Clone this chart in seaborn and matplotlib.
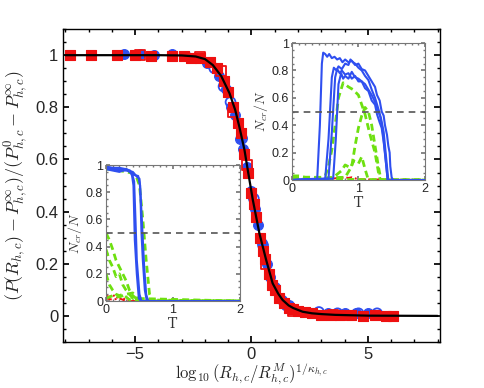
import numpy as np
import pandas as pd
import matplotlib
matplotlib.use("Agg")
import matplotlib.pyplot as plt
import seaborn as sns
from matplotlib.ticker import MultipleLocator

sns.set_theme(style="ticks")
plt.rcParams['font.family'] = ['Liberation Sans', 'DejaVu Sans']
plt.rcParams['mathtext.fontset'] = 'cm'

BLUE = '#2f4ff0'
RED = '#ee1010'
GREEN = '#6ee010'

# main collapse: fitted curve
curve_x = [-8, -4, -3, -2.4, -2.0, -1.66, -1.3, -0.94, -0.7, -0.52, -0.3, -0.16, 0.06,
           0.34, 0.63, 0.91, 1.15, 1.34, 1.6, 1.8, 2.2, 2.6, 3.0, 3.6, 5, 8]
curve_y = [1, 1, 0.999, 0.995, 0.985, 0.962, 0.92, 0.853, 0.79, 0.725, 0.636, 0.56, 0.444,
           0.317, 0.215, 0.125, 0.085, 0.061, 0.04, 0.03, 0.016, 0.01, 0.007, 0.004, 0.001, 0]

# red filled squares
red_x = [-7.8, -6.9, -5.8, -5.0, -4.3, -3.4, -2.9, -2.6, -2.2, -1.8, -1.5, -1.2, -1.0, -0.8,
         -0.6, -0.45, -0.3, -0.15, 0.0, 0.1, 0.2, 0.35, 0.5, 0.6, 0.75, 0.9, 1.0, 1.2, 1.4,
         1.6, 1.8, 2.0, 2.3, 2.6, 3.0, 3.4, 3.8, 4.3, 4.8, 5.3, 5.8, 6.1]
red_y = [1.0, 1.0, 1.0, 1.0, 0.995, 0.995, 0.997, 0.99, 0.99, 0.975, 0.95, 0.9, 0.86, 0.8,
         0.74, 0.7, 0.62, 0.55, 0.47, 0.43, 0.38, 0.3, 0.25, 0.22, 0.16, 0.12, 0.1, 0.07, 0.05,
         0.03, 0.025, 0.02, 0.015, 0.01, 0.005, 0.005, 0.003, 0.003, 0.0, 0.002, 0.0, 0.0]
# red open squares
redo_x = [-4.8, -2.2, -1.3, -0.8, -0.2, 0.6, 1.8, 3.5]
redo_y = [1.0, 0.995, 0.94, 0.78, 0.58, 0.2, 0.02, 0.005]

# blue filled circles
blue_x = [-5.5, -4.8, -4.2, -3.4, -2.8, -2.4, -1.9, -1.4, -1.1, -0.9, -0.7, -0.5, -0.35,
          -0.2, 0.0, 0.15, 0.3, 0.45, 0.65, 0.8, 1.0, 1.3, 1.6, 2.0, 2.5, 3.3, 4.0, 4.5, 5.0]
blue_y = [1.005, 1.005, 1.0, 1.005, 0.995, 0.99, 0.97, 0.92, 0.87, 0.8, 0.77, 0.68, 0.64,
          0.57, 0.48, 0.41, 0.35, 0.28, 0.2, 0.15, 0.11, 0.06, 0.04, 0.02, 0.01, 0.01, 0.01,
          0.01, 0.01]
# blue open circles
blueo_x = [-1.6, -1.2, -0.9, -0.4, 0.1, 0.5, 1.5, 2.9, 3.7, 4.6, 5.4]
blueo_y = [0.95, 0.88, 0.82, 0.68, 0.45, 0.27, 0.04, 0.015, 0.01, 0.01, 0.01]

# left inset (N_cr/N vs T)
L_blue = [
    ([0, 0.1, 0.2, 0.3, 0.36, 0.39, 0.41, 0.43, 0.46, 0.49, 0.52, 2],
     [0.98, 0.97, 0.97, 0.97, 0.96, 0.92, 0.85, 0.45, 0.2, 0.02, 0, 0]),
    ([0, 0.1, 0.2, 0.3, 0.38, 0.42, 0.44, 0.46, 0.5, 0.53, 2],
     [0.99, 0.98, 0.98, 0.97, 0.95, 0.88, 0.6, 0.3, 0.05, 0, 0]),
    ([0, 0.1, 0.2, 0.3, 0.4, 0.48, 0.51, 0.53, 0.55, 0.58, 0.61, 2],
     [0.97, 0.96, 0.95, 0.97, 0.93, 0.92, 0.85, 0.5, 0.3, 0.08, 0, 0]),
    ([0, 0.15, 0.3, 0.4, 0.47, 0.5, 0.52, 0.55, 0.57, 0.6, 0.63, 2],
     [0.98, 0.96, 0.96, 0.95, 0.91, 0.9, 0.75, 0.45, 0.25, 0.05, 0, 0]),
]
L_green = [
    ([0, 0.1, 0.2, 0.3, 0.4, 0.45, 0.5, 0.55, 0.6, 0.65, 0.7, 2],
     [0.97, 0.97, 0.96, 0.95, 0.94, 0.92, 0.85, 0.6, 0.3, 0.05, 0, 0]),
    ([0, 0.05, 0.1, 0.15, 0.2, 0.25, 0.3, 0.35, 0.4, 0.45, 0.5, 2],
     [0.5, 0.45, 0.38, 0.3, 0.25, 0.2, 0.15, 0.08, 0.04, 0.02, 0, 0]),
    ([0, 0.05, 0.1, 0.15, 0.2, 0.25, 0.3, 0.35, 0.4, 2],
     [0.38, 0.3, 0.25, 0.18, 0.2, 0.12, 0.08, 0.05, 0.02, 0]),
    ([0, 0.05, 0.1, 0.15, 0.2, 0.25, 0.3, 0.35, 2],
     [0.2, 0.12, 0.08, 0.05, 0.04, 0.05, 0.03, 0.01, 0]),
    ([0, 0.1, 0.2, 0.3, 0.4, 0.45, 0.5, 2],
     [0.02, 0.04, 0.03, 0.05, 0.06, 0.03, 0, 0]),
]
L_red = [
    ([0, 0.05, 0.1, 0.15, 0.2, 0.25, 0.3, 0.35, 2],
     [0.04, 0.03, 0.05, 0.02, 0.04, 0.02, 0.01, 0, 0]),
    ([0, 0.1, 0.2, 0.3, 2],
     [0.02, 0.01, 0.02, 0.0, 0]),
]

# right inset
R_blue = [
    ([0, 0.38, 0.42, 0.45, 0.47, 0.5, 0.53, 0.56, 0.6, 0.64, 0.68, 0.72, 0.76, 0.8, 0.85,
      0.9, 0.95, 1.0, 1.05, 1.1, 1.15, 1.2, 1.25, 1.28, 1.32, 1.35, 1.38, 1.4, 1.43, 1.45,
      1.47, 1.48, 1.5, 1.52, 2.0],
     [0, 0.01, 0.4, 0.85, 0.93, 0.92, 0.90, 0.92, 0.89, 0.90, 0.88, 0.89, 0.86, 0.88, 0.86,
      0.87, 0.84, 0.85, 0.81, 0.80, 0.76, 0.72, 0.68, 0.62, 0.58, 0.50, 0.47, 0.40, 0.33,
      0.25, 0.2, 0.1, 0.02, 0, 0]),
    ([0, 0.5, 0.55, 0.6, 0.63, 0.67, 0.7, 0.75, 0.8, 0.85, 0.88, 0.92, 0.95, 1.0, 1.05,
      1.1, 1.15, 1.2, 1.25, 1.3, 1.34, 1.38, 1.42, 1.45, 2],
     [0, 0.01, 0.3, 0.75, 0.82, 0.80, 0.83, 0.81, 0.85, 0.84, 0.88, 0.86, 0.85, 0.82, 0.80,
      0.76, 0.73, 0.66, 0.60, 0.52, 0.45, 0.35, 0.15, 0, 0]),
    ([0, 0.55, 0.6, 0.65, 0.68, 0.72, 0.75, 0.8, 0.85, 0.9, 0.95, 1.0, 1.05, 1.1, 1.15,
      1.2, 1.25, 1.28, 1.32, 1.35, 1.38, 1.42, 1.44, 2],
     [0, 0.01, 0.35, 0.75, 0.81, 0.78, 0.80, 0.77, 0.78, 0.74, 0.76, 0.72, 0.72, 0.67, 0.65,
      0.58, 0.55, 0.48, 0.42, 0.38, 0.28, 0.1, 0, 0]),
    ([0, 0.62, 0.66, 0.7, 0.74, 0.77, 0.8, 0.85, 0.9, 0.95, 1.0, 1.05, 1.1, 1.15, 1.2,
      1.25, 1.3, 1.33, 1.36, 1.4, 1.44, 2],
     [0, 0.01, 0.3, 0.7, 0.78, 0.74, 0.76, 0.74, 0.79, 0.75, 0.74, 0.72, 0.70, 0.66, 0.62,
      0.57, 0.50, 0.46, 0.38, 0.2, 0.0, 0]),
]
R_green = [
    ([0, 0.45, 0.5, 0.55, 0.6, 0.65, 0.7, 0.77, 0.85, 0.92, 1.0, 1.05, 1.1, 1.17, 1.25, 1.3,
      1.33, 2],
     [0.02, 0.02, 0.03, 0.1, 0.22, 0.4, 0.6, 0.71, 0.68, 0.66, 0.62, 0.55, 0.48, 0.34, 0.2,
      0.06, 0, 0]),
    ([0, 0.8, 0.9, 0.95, 1.0, 1.05, 1.1, 1.15, 1.2, 1.25, 1.3, 1.34, 2],
     [0.01, 0.02, 0.1, 0.25, 0.38, 0.47, 0.53, 0.50, 0.4, 0.25, 0.1, 0, 0]),
    ([0, 0.55, 0.65, 0.75, 0.8, 0.88, 0.93, 1.0, 1.05, 1.1, 1.15, 2],
     [0.02, 0.01, 0.03, 0.07, 0.11, 0.09, 0.14, 0.12, 0.17, 0.08, 0, 0]),
    ([0, 0.1, 0.2, 0.3, 0.4, 0.5, 0.6, 2],
     [0.03, 0.03, 0.02, 0.02, 0.01, 0.01, 0.005, 0]),
]
R_red = [
    ([0, 0.3, 0.6, 0.8, 0.85, 0.9, 1.0, 2],
     [0.0, 0.005, 0.01, 0.02, 0.015, 0.02, 0.005, 0]),
]

fig = plt.figure(figsize=(4.85, 3.88), dpi=100)
ax = fig.add_axes([0.13, 0.1186, 0.777, 0.8064])

sns.lineplot(x=curve_x, y=curve_y, ax=ax, color='black', lw=1.6, sort=False,
             estimator=None, zorder=5)
sns.scatterplot(x=blue_x, y=blue_y, ax=ax, color=BLUE, marker='o', s=50,
                edgecolor=BLUE, linewidth=0.8, zorder=3)
sns.scatterplot(x=blueo_x, y=blueo_y, ax=ax, marker='o', s=50, facecolor='none',
                edgecolor=BLUE, linewidth=1.3, zorder=3)
sns.scatterplot(x=red_x, y=red_y, ax=ax, color=RED, marker='s', s=50,
                edgecolor=RED, linewidth=0.8, zorder=4)
sns.scatterplot(x=redo_x, y=redo_y, ax=ax, marker='s', s=50, facecolor='none',
                edgecolor=RED, linewidth=1.3, zorder=4)

ax.set_xlim(-8.1, 8.1)
ax.set_ylim(-0.1, 1.1)
ax.set_xticks([-5, 0, 5])
ax.set_xticklabels(['\u22125', '0', '5'])
ax.set_yticks([0, 0.2, 0.4, 0.6, 0.8, 1])
ax.set_yticklabels(['0', '0.2', '0.4', '0.6', '0.8', '1'])
ax.xaxis.set_minor_locator(MultipleLocator(1))
ax.yaxis.set_minor_locator(MultipleLocator(0.05))
ax.tick_params(which='both', direction='in', top=True, right=True, labelsize=12,
               color='black')
ax.tick_params(which='major', length=4)
ax.tick_params(which='minor', length=2)
for s in ax.spines.values():
    s.set_color('black')
    s.set_linewidth(1.0)
ax.set_xlabel(r'$\log_{10}(R_{h,c}/R^M_{h,c})^{1/\kappa_{h,c}}$', fontsize=12, labelpad=0)
ax.set_ylabel(r'$(P(R_{h,c})-P^{\infty}_{h,c})/(P^0_{h,c}-P^{\infty}_{h,c})$',
              fontsize=13, labelpad=4)


def draw_inset(rect, blues, greens, reds):
    a = fig.add_axes(rect)
    for tx, ty in reds:
        sns.lineplot(x=tx, y=ty, ax=a, color=RED, lw=1.4, sort=False, estimator=None,
                     linestyle=(0, (3, 1.5, 1, 1.5)))
    for tx, ty in greens:
        sns.lineplot(x=tx, y=ty, ax=a, color=GREEN, lw=2.0, sort=False, estimator=None,
                     linestyle=(0, (2.5, 1.5)))
    for tx, ty in blues:
        sns.lineplot(x=tx, y=ty, ax=a, color=BLUE, lw=1.5, sort=False, estimator=None)
    a.axhline(0.5, color='#555555', lw=1.2, linestyle=(0, (4, 3)))
    a.set_xlim(0, 2)
    a.set_ylim(0, 1)
    a.set_xticks([0, 1, 2])
    a.set_yticks([0, 0.2, 0.4, 0.6, 0.8, 1])
    a.set_yticklabels(['0', '0.2', '0.4', '0.6', '0.8', '1'])
    a.xaxis.set_minor_locator(MultipleLocator(0.1))
    a.yaxis.set_minor_locator(MultipleLocator(0.05))
    a.tick_params(which='both', direction='in', top=True, right=True, labelsize=9,
                  color='#777777', pad=2)
    a.tick_params(which='major', length=3)
    a.tick_params(which='minor', length=1.5)
    for s in a.spines.values():
        s.set_color('#777777')
        s.set_linewidth(0.8)
    a.set_xlabel('T', fontsize=10, family='DejaVu Serif', color='#333333', labelpad=1)
    a.set_ylabel(r'$N_{cr}/N$', fontsize=10, color='#333333', labelpad=1)
    return a


draw_inset([0.2186, 0.224, 0.276, 0.3505], L_blue, L_green, L_red)
draw_inset([0.602, 0.536, 0.274, 0.353], R_blue, R_green, R_red)

fig.savefig('out.png', dpi=100)
